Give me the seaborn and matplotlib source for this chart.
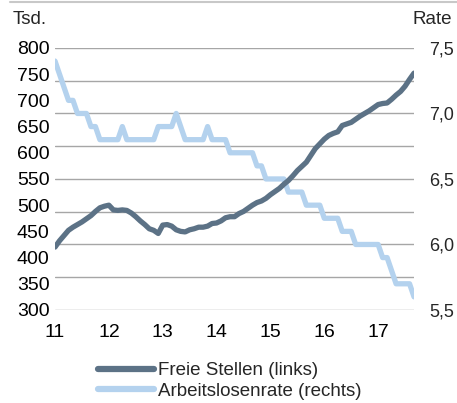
import matplotlib.pyplot as plt
import matplotlib.ticker as mticker
from matplotlib.lines import Line2D
import pandas as pd
import seaborn as sns

# monthly values, Jan 2011 .. Sep 2017
freie_stellen = [420, 432, 442, 452, 458, 463, 468, 474, 480, 488, 495, 498,
                 500, 491, 490, 491, 490, 485, 478, 470, 463, 455, 452, 446,
                 462, 463, 460, 453, 450, 449, 453, 455, 458, 458, 460, 465,
                 466, 470, 476, 478, 478, 484, 488, 494, 500, 505, 508, 513,
                 520, 526, 532, 540, 547, 556, 566, 574, 582, 595, 608, 617,
                 626, 633, 637, 640, 652, 655, 658, 664, 670, 675, 680, 686,
                 692, 694, 695, 702, 710, 717, 727, 740, 752]
arbeitslosenrate = [7.4, 7.3, 7.2, 7.1, 7.1, 7.0, 7.0, 7.0, 6.9, 6.9, 6.8, 6.8,
                    6.8, 6.8, 6.8, 6.9, 6.8, 6.8, 6.8, 6.8, 6.8, 6.8, 6.8, 6.9,
                    6.9, 6.9, 6.9, 7.0, 6.9, 6.8, 6.8, 6.8, 6.8, 6.8, 6.9, 6.8,
                    6.8, 6.8, 6.8, 6.7, 6.7, 6.7, 6.7, 6.7, 6.7, 6.6, 6.6, 6.5,
                    6.5, 6.5, 6.5, 6.5, 6.4, 6.4, 6.4, 6.4, 6.3, 6.3, 6.3, 6.3,
                    6.2, 6.2, 6.2, 6.2, 6.1, 6.1, 6.1, 6.0, 6.0, 6.0, 6.0, 6.0,
                    6.0, 5.9, 5.9, 5.8, 5.7, 5.7, 5.7, 5.7, 5.6]
year_labels = ["11", "12", "13", "14", "15", "16", "17"]

df = pd.DataFrame({"monat": range(len(freie_stellen)),
                   "stellen": freie_stellen,
                   "rate": arbeitslosenrate})

dark = "#5C7286"
light = "#B4D2EE"

sns.set_style("white")
plt.rcParams["font.family"] = ["Liberation Sans", "DejaVu Sans"]
plt.rcParams["font.size"] = 13.5

fig = plt.figure(figsize=(4.57, 4.03), dpi=100)
ax = fig.add_axes([0.1204, 0.2308, 0.7856, 0.6502])
ax2 = ax.twinx()

sns.lineplot(df, x="monat", y="rate", ax=ax2, color=light, lw=3.8, legend=False)
sns.lineplot(df, x="monat", y="stellen", ax=ax, color=dark, lw=3.8, legend=False)

# dark line on top, grid comes from the right axis (same spacing)
ax.set_zorder(ax2.get_zorder() + 1)
ax.patch.set_visible(False)

ax.set_xlim(0, 80)
ax.set_ylim(300, 800)
ax2.set_ylim(5.5, 7.5)
ax.set_yticks(range(300, 801, 50))
ax2.yaxis.set_major_locator(mticker.MultipleLocator(0.5))
ax2.yaxis.set_minor_locator(mticker.MultipleLocator(0.25))
ax2.yaxis.set_major_formatter(mticker.FuncFormatter(lambda v, p: f"{v:.1f}".replace(".", ",")))
ax2.grid(True, which="both", axis="y", color="#A6A6A6", lw=1)
ax.grid(False)
ax.set_xticks(range(0, 73, 12))
ax.set_xticklabels(year_labels)

ax.tick_params(axis="both", length=0, labelsize=14, colors="black")
ax.tick_params(axis="y", pad=4)
ax.tick_params(axis="x", pad=10)
ax2.tick_params(axis="y", which="both", length=0, labelsize=13, pad=11)
ax.set_xlabel("")
ax.set_ylabel("")
ax2.set_ylabel("")
for a in (ax, ax2):
    for s in a.spines.values():
        s.set_visible(False)

fig.text(13 / 457, 1 - 20 / 403, "Tsd.", fontsize=13.5, va="center", ha="left")
fig.text(452 / 457, 1 - 20 / 403, "Rate", fontsize=13.5, va="center", ha="right")
fig.add_artist(Line2D([10 / 457, 1], [1 - 1.5 / 403, 1 - 1.5 / 403], color="#C8C8C8", lw=1.5))

handles = [Line2D([], [], color=dark, lw=4.5), Line2D([], [], color=light, lw=4.5)]
fig.legend(handles, ["Freie Stellen (links)", "Arbeitslosenrate (rechts)"],
           loc="upper left", bbox_to_anchor=(98 / 457, 1 - 362 / 403), frameon=False,
           fontsize=13.5, handlelength=3.0, handletextpad=0.2, labelspacing=0.2,
           borderpad=0, borderaxespad=0)

fig.savefig("out.png", dpi=100)
